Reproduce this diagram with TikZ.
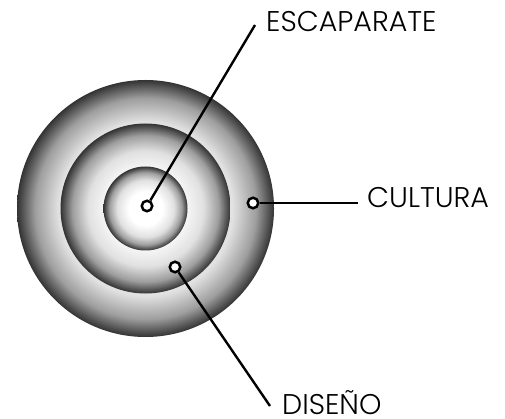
\documentclass[tikz,border=0pt]{standalone}
\usepackage{fontspec}
\setmainfont{Poppins Light}
\pgfdeclareradialshading{ringshade}{\pgfpoint{0bp}{0bp}}{%
  color(0bp)=(white);
  color(10bp)=(white);
  color(17bp)=(black!12);
  color(21.5bp)=(black!38);
  color(25bp)=(black!80);
  color(50bp)=(black!80)}
\begin{document}
\begin{tikzpicture}[x=1pt,y=-1pt,
  dot/.style={circle,draw=black,fill=white,line width=2.5pt,minimum size=10.5pt,inner sep=0pt},
  conn/.style={line width=2.4pt},
  lbl/.style={anchor=base west,inner sep=0pt,font=\fontsize{28.5}{30}\selectfont}]
\useasboundingbox (0,0) rectangle (505,419);
\shade[shading=ringshade] (145.5,208.5) circle (128.5pt);
\shade[shading=ringshade] (145.5,208.5) circle (85pt);
\shade[shading=ringshade] (145.5,208.5) circle (42pt);
\coordinate (eend) at (255,25);
\coordinate (cend) at (358,203);
\coordinate (dend) at (270,406);
\node[dot] (e) at (147,206) {};
\node[dot] (c) at (253,203) {};
\node[dot] (d) at (175,267) {};
\draw[conn] (e) -- (eend);
\draw[conn] (c) -- (cend);
\draw[conn] (d) -- (dend);
\node[lbl] (le) at (266,32) {ESCAPARATE};
\node[lbl] (lc) at (367,208) {CULTURA};
\node[lbl] (ld) at (282,414.5) {DISEÑO};
\end{tikzpicture}
\end{document}
